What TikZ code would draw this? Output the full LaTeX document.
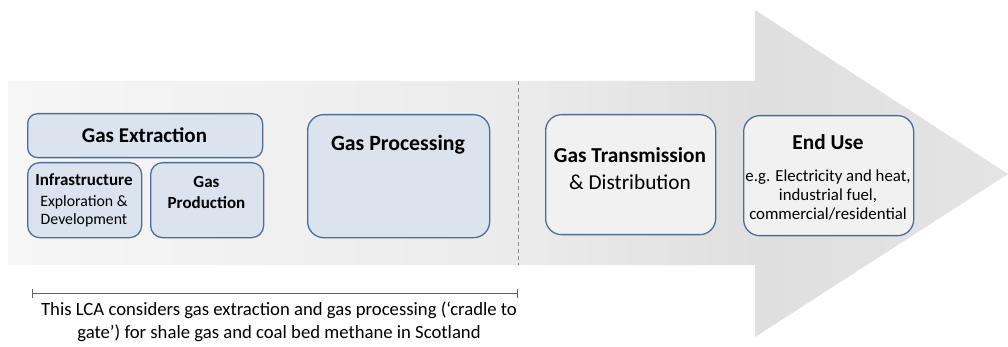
\documentclass[tikz,border=0pt]{standalone}
\usepackage{fontspec}
\setmainfont{Carlito}
\usetikzlibrary{arrows.meta}
\definecolor{boxline}{HTML}{4F6D94}
\definecolor{boxblue}{HTML}{DAE3EE}
\definecolor{boxgray}{HTML}{F1F1F1}
\definecolor{shA}{HTML}{F6F6F6}
\definecolor{shB}{HTML}{EBEBEB}
\definecolor{shC}{HTML}{DFDFDF}
\definecolor{shD}{HTML}{E4E4E4}
\pgfdeclarehorizontalshading{arrowshade}{100bp}{color(0bp)=(shA); color(25bp)=(shA); color(50.5bp)=(shB); color(62.5bp)=(shC); color(75bp)=(shD); color(100bp)=(shD)}
\begin{document}
\begin{tikzpicture}[x=1pt,y=-1pt,
  boxbase/.style={draw=boxline, line width=1.3pt, inner sep=0pt, anchor=north west},
  bluebox/.style={boxbase, fill=boxblue},
  graybox/.style={boxbase, fill=boxgray},
  headtxt/.style={font=\bfseries\fontsize{21.3}{25}\selectfont, anchor=base, inner sep=0pt},
  subbold/.style={font=\bfseries\fontsize{17}{19}\selectfont, anchor=base, inner sep=0pt},
  subreg/.style={font=\fontsize{15.8}{19}\selectfont, anchor=base, inner sep=0pt},
  bodytxt/.style={font=\fontsize{16.8}{19}\selectfont, anchor=base, inner sep=0pt},
  notetxt/.style={font=\fontsize{18.7}{22}\selectfont, anchor=base, inner sep=0pt}]
\useasboundingbox (0,0) rectangle (1008,347);
% big arrow
\shade[shading=arrowshade] (8,81) -- (755,81) -- (755,10) -- (1008,174) -- (755,337) -- (755,265) -- (8,265) -- cycle;
% dashed divider
\coordinate (dtop) at (518,81);
\coordinate (dbot) at (518,265);
\draw[color=gray!90, line width=0.9pt, dash pattern=on 4pt off 3pt] (dtop) -- (dbot);
% boxes
\node[bluebox, rounded corners=10pt, minimum width=235pt, minimum height=44pt] (ext) at (27,113) {};
\node[bluebox, rounded corners=12pt, minimum width=114pt, minimum height=75pt] (infra) at (27,162) {};
\node[bluebox, rounded corners=12pt, minimum width=113pt, minimum height=75pt] (prod) at (150,162) {};
\node[bluebox, rounded corners=16pt, minimum width=182pt, minimum height=123pt] (proc) at (307,114) {};
\node[graybox, rounded corners=16pt, minimum width=170pt, minimum height=120pt] (trans) at (545,114) {};
\node[graybox, rounded corners=16pt, minimum width=170pt, minimum height=120pt] (end) at (743,115) {};
% texts
\node[headtxt, font=\bfseries\fontsize{21}{25}\selectfont] (t-ext) at (144.5,142.5) {Gas Extraction};
\node[subbold] (t-infra1) at (84,186) {Infrastructure};
\node[subreg] (t-infra2) at (84,207) {Exploration \&};
\node[subreg] (t-infra3) at (84,225) {Development};
\node[subbold] (t-prod1) at (206.5,187.5) {Gas};
\node[subbold] (t-prod2) at (206.5,209) {Production};
\node[headtxt, font=\bfseries\fontsize{21.8}{25}\selectfont] (t-proc) at (398,151) {Gas Processing};
\node[headtxt] (t-trans1) at (630,163) {Gas Transmission};
\node[headtxt, font=\fontsize{21.3}{25}\selectfont] (t-trans2) at (630,190) {\& Distribution};
\node[headtxt] (t-end) at (828,150) {End Use};
\node[bodytxt] (t-end1) at (828,181.5) {e.g. Electricity and heat,};
\node[bodytxt] (t-end2) at (828,201) {industrial fuel,};
\node[bodytxt] (t-end3) at (828,220) {commercial/residential};
% scope bracket
\coordinate (bl) at (32,293.5);
\coordinate (br) at (518,293.5);
\draw[color=black!62, line width=1.8pt, {Bar[width=9pt,line width=1.2pt]}-{Bar[width=9pt,line width=1.2pt]}] (bl) -- (br);
\node[notetxt] (note1) at (279,315.5) {This LCA considers gas extraction and gas processing (‘cradle to};
\node[notetxt] (note2) at (279,338) {gate’) for shale gas and coal bed methane in Scotland};
\end{tikzpicture}
\end{document}
